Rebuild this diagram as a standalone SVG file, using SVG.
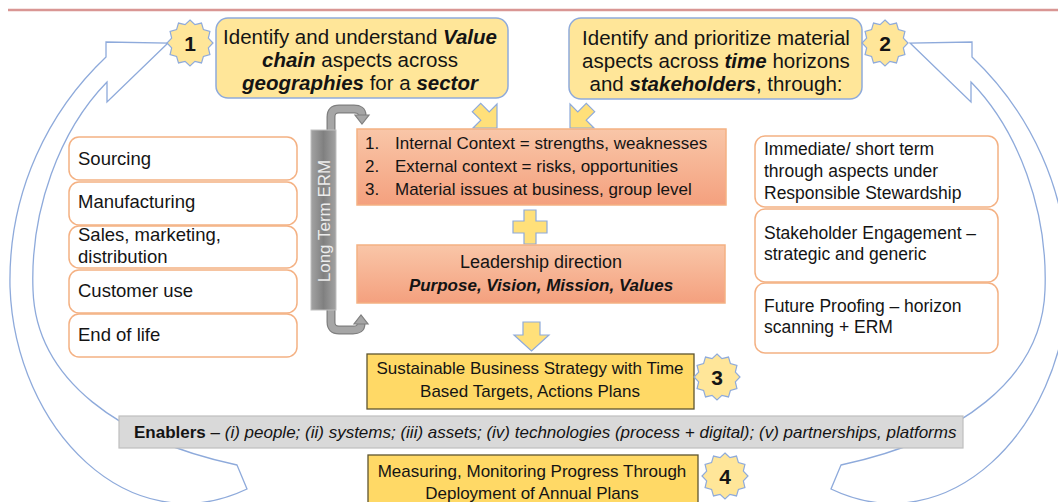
<svg xmlns="http://www.w3.org/2000/svg" width="1058" height="502" viewBox="0 0 1058 502">
<defs>
<style>
text{font-family:"Liberation Sans",Arial,sans-serif;fill:#141414}
.yb{fill:#ffe699;stroke:#8eaadb;stroke-width:1.5}
.wb{fill:#fff;stroke:#f4b183;stroke-width:1.5}
.ob{fill:url(#og);stroke:#f4b183;stroke-width:1.5}
.sb{fill:#ffd966;stroke:#5e5530;stroke-width:1.3}
.star{fill:#ffe699;stroke:#8eaadb;stroke-width:1.2}
.ya{fill:#ffe07a;stroke:#8eaadb;stroke-width:1.2}
.big{fill:#fff;stroke:#8eaadb;stroke-width:1.3}
.hookO{fill:none;stroke:#7f7f7f;stroke-width:9}
.hookI{fill:none;stroke:#a6a6a6;stroke-width:6.5}
.hookH{fill:#a6a6a6;stroke:#7f7f7f;stroke-width:1.2}
.t20{font-size:20.5px}
.t18{font-size:18.5px}
.t175{font-size:17.5px}
.t17{font-size:17px}
.bi{font-weight:bold;font-style:italic}
.num{font-size:21px;font-weight:bold;text-anchor:middle}
.c{text-anchor:middle}
</style>
<linearGradient id="og" x1="0" y1="0" x2="0" y2="1"><stop offset="0" stop-color="#f9c6a8"/><stop offset="1" stop-color="#f4a07e"/></linearGradient>
<linearGradient id="gg" x1="0" y1="0" x2="1" y2="0"><stop offset="0" stop-color="#a3a3a3"/><stop offset="0.5" stop-color="#808080"/><stop offset="1" stop-color="#a3a3a3"/></linearGradient>
<polygon id="star" points="0,-23 4.92,-18.35 11.5,-19.92 13.43,-13.43 19.92,-11.5 18.35,-4.92 23,0 18.35,4.92 19.92,11.5 13.43,13.43 11.5,19.92 4.92,18.35 0,23 -4.92,18.35 -11.5,19.92 -13.43,13.43 -19.92,11.5 -18.35,4.92 -23,0 -18.35,-4.92 -19.92,-11.5 -13.43,-13.43 -11.5,-19.92 -4.92,-18.35"/>
<path id="bigArrow" d="M168,43 L107,102 L107,82 C60,130 30,210 33,290 C36,380 120,440 237,465 L247,489 C130,545 15,430 10,287 C8,190 50,110 106,57 L106,42 Z"/>
</defs>
<rect width="1058" height="502" fill="#fff"/>
<line x1="8" y1="10" x2="1058" y2="10" stroke="#d99694" stroke-width="2.5"/>

<g id="connectors">
  <use href="#bigArrow" class="big"/>
  <use href="#bigArrow" class="big" transform="translate(1078,0) scale(-1,1)"/>
  <polygon class="ya" points="497,128 473,128 480.8,120.2 472.3,111.7 480.7,103.3 489.2,111.8 497,104"/>
  <polygon class="ya" points="570,128 594,128 586.2,120.2 594.7,111.7 586.3,103.3 577.8,111.8 570,104"/>
  <polygon class="ya" points="523,322 540,322 540,335 549,335 531.5,351 514,335 523,335"/>
  <polygon class="ya" points="524,210 536,210 536,221 547,221 547,233 536,233 536,244 524,244 524,233 513,233 513,221 524,221"/>
  <path class="hookO" d="M331,131 V117 Q331,109 339,109 H354 Q362,109 362,115"/>
  <path class="hookI" d="M331,131 V117 Q331,109 339,109 H354 Q362,109 362,115"/>
  <polygon class="hookH" points="355,115 369,115 362,124"/>
  <path class="hookO" d="M331,309 V322 Q331,330 339,330 H353 Q361,330 361,324"/>
  <path class="hookI" d="M331,309 V322 Q331,330 339,330 H353 Q361,330 361,324"/>
  <polygon class="hookH" points="354,324 368,324 361,315"/>
</g>

<g id="step1">
  <rect class="yb" x="216" y="18" width="292" height="80" rx="12"/>
  <text class="t20 c" x="360" y="44">Identify and understand <tspan class="bi">Value</tspan></text>
  <text class="t20 c" x="360" y="67"><tspan class="bi">chain</tspan> aspects across</text>
  <text class="t20 c" x="360" y="90"><tspan class="bi">geographies</tspan> for a <tspan class="bi">sector</tspan></text>
  <use href="#star" class="star" transform="translate(190,43)"/>
  <text class="num" x="190" y="50.5">1</text>
</g>

<g id="step2">
  <rect class="yb" x="569" y="18" width="293" height="81" rx="12"/>
  <text class="t20 c" x="716" y="45">Identify and prioritize material</text>
  <text class="t20 c" x="716" y="68">aspects across <tspan class="bi">time</tspan> horizons</text>
  <text class="t20 c" x="716" y="91">and <tspan class="bi">stakeholders</tspan>, through:</text>
  <use href="#star" class="star" transform="translate(885,43)"/>
  <text class="num" x="885" y="50.5">2</text>
</g>

<g id="value-chain">
  <rect class="wb" x="69" y="137" width="228" height="43" rx="10"/>
  <text class="t18" x="78" y="165">Sourcing</text>
  <rect class="wb" x="69" y="182" width="228" height="43" rx="10"/>
  <text class="t18" x="78" y="208">Manufacturing</text>
  <rect class="wb" x="69" y="226" width="228" height="42" rx="10"/>
  <text class="t18" x="78" y="241">Sales, marketing,</text>
  <text class="t18" x="78" y="263">distribution</text>
  <rect class="wb" x="69" y="270" width="228" height="43" rx="10"/>
  <text class="t18" x="78" y="297">Customer use</text>
  <rect class="wb" x="69" y="314" width="228" height="43" rx="10"/>
  <text class="t18" x="78" y="341">End of life</text>
</g>

<g id="erm">
  <rect x="311" y="130" width="25" height="180" fill="url(#gg)" stroke="#bfbfbf" stroke-width="1"/>
  <text class="t17 c" transform="translate(330,221) rotate(-90)" style="fill:#ececec">Long Term ERM</text>
</g>

<g id="context">
  <rect class="ob" x="357" y="129" width="369" height="76"/>
  <text class="t17" x="365" y="149">1.</text>
  <text class="t17" x="395" y="149">Internal Context = strengths, weaknesses</text>
  <text class="t17" x="365" y="172">2.</text>
  <text class="t17" x="395" y="172">External context = risks, opportunities</text>
  <text class="t17" x="365" y="195">3.</text>
  <text class="t17" x="395" y="195">Material issues at business, group level</text>
</g>

<g id="leadership">
  <rect class="ob" x="357" y="245" width="368" height="58"/>
  <text class="c" style="font-size:18px" x="541" y="268">Leadership direction</text>
  <text class="t17 c bi" x="541" y="291">Purpose, Vision, Mission, Values</text>
</g>

<g id="horizons">
  <rect class="wb" x="755" y="136" width="243" height="71" rx="10"/>
  <text class="t175" x="764" y="155">Immediate/ short term</text>
  <text class="t175" x="764" y="177">through aspects under</text>
  <text class="t175" x="764" y="199">Responsible Stewardship</text>
  <rect class="wb" x="755" y="209" width="243" height="73" rx="10"/>
  <text class="t175" x="764" y="239">Stakeholder Engagement –</text>
  <text class="t175" x="764" y="260">strategic and generic</text>
  <rect class="wb" x="755" y="283" width="243" height="70" rx="10"/>
  <text class="t175" x="764" y="312">Future Proofing – horizon</text>
  <text class="t175" x="764" y="333">scanning + ERM</text>
</g>

<g id="step3">
  <rect class="sb" x="367" y="354" width="327" height="55"/>
  <text class="t17 c" x="530" y="374">Sustainable Business Strategy with Time</text>
  <text class="t17 c" x="530" y="397">Based Targets, Actions Plans</text>
  <use href="#star" class="star" transform="translate(717,377)"/>
  <text class="num" x="717" y="384.5">3</text>
</g>

<g id="enablers">
  <rect x="119" y="416" width="844" height="32" fill="#d9d9d9" stroke="#bfbfbf" stroke-width="1.2"/>
  <text class="t17" x="134" y="438"><tspan font-weight="bold">Enablers</tspan> – <tspan font-style="italic">(i) people; (ii) systems; (iii) assets; (iv) technologies (process + digital); (v) partnerships, platforms</tspan></text>
</g>

<g id="step4">
  <rect class="sb" x="368" y="455" width="330" height="60"/>
  <text class="t17 c" x="532" y="477">Measuring, Monitoring Progress Through</text>
  <text class="t17 c" x="532" y="499">Deployment of Annual Plans</text>
  <use href="#star" class="star" transform="translate(725,476)"/>
  <text class="num" x="725" y="483.5">4</text>
</g>
</svg>
